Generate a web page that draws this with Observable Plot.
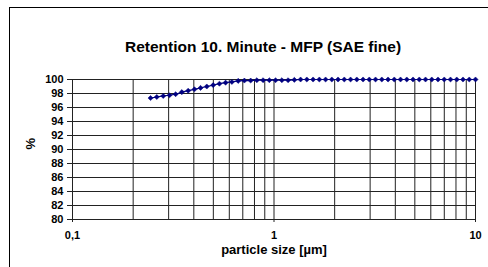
<!DOCTYPE html>
<html>
<head>
<meta charset="utf-8">
<script src="https://cdn.jsdelivr.net/npm/d3@7"></script>
<script src="https://cdn.jsdelivr.net/npm/@observablehq/plot@0.6"></script>
<style>
  html, body { margin: 0; padding: 0; background: #fff; overflow: hidden; }
  #wrap { position: relative; width: 488px; height: 267px; }
  #border { position: absolute; left: 9px; top: 7px; width: 600px; height: 400px;
            border-left: 1px solid #000; border-top: 1px solid #000; pointer-events: none; }
</style>
</head>
<body>
<div id="wrap"><div id="border"></div></div>
<script>
const title = "Retention 10. Minute - MFP (SAE fine)";
const xLabel = "particle size [µm]";
const yLabel = "%";

const sizes = [0.244, 0.262, 0.282, 0.303, 0.325, 0.349, 0.375, 0.403, 0.432, 0.464,
  0.499, 0.536, 0.575, 0.618, 0.664, 0.713, 0.766, 0.822, 0.883, 0.948,
  1.018, 1.094, 1.175, 1.262, 1.355, 1.455, 1.563, 1.679, 1.803, 1.936,
  2.079, 2.233, 2.399, 2.576, 2.767, 2.971, 3.191, 3.428, 3.681, 3.953,
  4.246, 4.560, 4.898, 5.260, 5.649, 6.067, 6.516, 6.998, 7.516, 8.072,
  8.669, 9.311, 10];
const retention = [97.35, 97.5, 97.65, 97.75, 97.9, 98.2, 98.4, 98.6, 98.8, 99.0,
  99.2, 99.4, 99.55, 99.65, 99.8, 99.85, 99.85, 99.9, 99.9, 99.9,
  99.9, 99.9, 99.9, 99.95, 100, 100, 100, 100, 100, 100,
  100, 100, 100, 100, 100, 100, 100, 100, 100, 100,
  100, 100, 100, 100, 100, 100, 100, 100, 100, 100,
  100, 100, 100];

const yTicks = [80, 82, 84, 86, 88, 90, 92, 94, 96, 98, 100];
const xTicks = [0.1, 1, 10];
const xTickLabels = ["0,1", "1", "10"];
const xGrid = [0.1, 0.2, 0.3, 0.4, 0.5, 0.6, 0.7, 0.8, 0.9, 1, 2, 3, 4, 5, 6, 7, 8, 9, 10];

const data = sizes.map((s, i) => ({size: s, value: retention[i]}));

const chart = Plot.plot({
  width: 488,
  height: 267,
  marginLeft: 72,
  marginRight: 13,
  marginTop: 79,
  marginBottom: 48,
  style: {fontFamily: "'Liberation Sans', Arial, sans-serif", fontWeight: "bold", fontSize: "11px", background: "transparent", color: "#000"},
  x: {type: "log", domain: [0.1, 10], label: null},
  y: {domain: [80, 100], label: null},
  marks: [
    Plot.gridX(xGrid, {stroke: "#222", strokeOpacity: 1}),
    Plot.gridY(yTicks, {stroke: "#222", strokeOpacity: 1}),
    Plot.axisY(yTicks, {tickSize: 5, tickPadding: 4, label: null, stroke: "#222"}),
    Plot.axisX(xTicks, {tickSize: 3, tickPadding: 9, label: null, stroke: "#222",
      tickFormat: d => xTickLabels[xTicks.indexOf(d)]}),
    Plot.line(data, {x: "size", y: "value", stroke: "#000080", strokeWidth: 1.2}),
    Plot.dot(data, {x: "size", y: "value", symbol: "diamond2", r: 2.3, fill: "#000080", stroke: "#000080", strokeWidth: 0.5}),
    Plot.text([title], {text: d => d, frameAnchor: "top", dy: -39, dx: -11, fontSize: 15.5, fontWeight: "bold"}),
    Plot.text([xLabel], {text: d => d, frameAnchor: "bottom", dy: 34, fontSize: 13, fontWeight: "bold"}),
    Plot.text([yLabel], {text: d => d, frameAnchor: "left", dx: -42, rotate: -90, fontSize: 13, fontWeight: "bold"})
  ]
});
chart.style.position = "absolute";
chart.style.left = "0px";
chart.style.top = "0px";
document.getElementById("wrap").prepend(chart);
</script>
</body>
</html>
